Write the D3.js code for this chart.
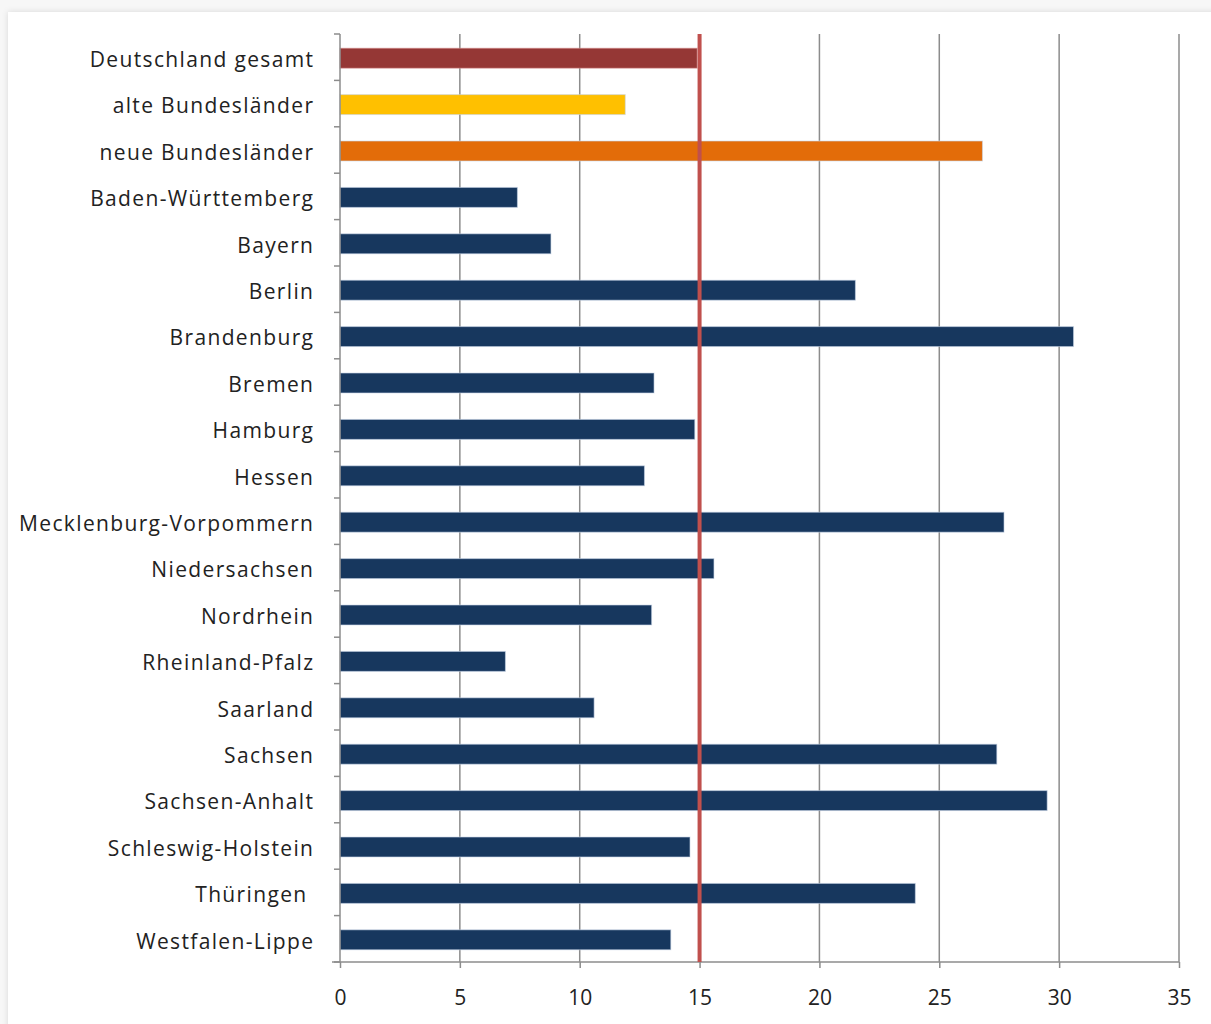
<!DOCTYPE html>
<html><head><meta charset="utf-8">
<script src="https://cdn.jsdelivr.net/npm/d3@7"></script>
<style>
html,body{margin:0;padding:0;background:#f7f7f7;}
svg{display:block;}
</style></head>
<body>
<script>
const categories = ["Deutschland gesamt","alte Bundesländer","neue Bundesländer","Baden-Württemberg","Bayern","Berlin","Brandenburg","Bremen","Hamburg","Hessen","Mecklenburg-Vorpommern","Niedersachsen","Nordrhein","Rheinland-Pfalz","Saarland","Sachsen","Sachsen-Anhalt","Schleswig-Holstein","Thüringen ","Westfalen-Lippe"];
const values = [14.9,11.9,26.8,7.4,8.8,21.5,30.6,13.1,14.8,12.7,27.7,15.6,13.0,6.9,10.6,27.4,29.5,14.6,24.0,13.8];
const barColors = ["#953735","#FFC000","#E36C09","#17375E","#17375E","#17375E","#17375E","#17375E","#17375E","#17375E","#17375E","#17375E","#17375E","#17375E","#17375E","#17375E","#17375E","#17375E","#17375E","#17375E"];
const xTicks = [0,5,10,15,20,25,30,35];
const referenceValue = [15];

(function(){
const W=1211,H=1024;
const svg=d3.select("body").append("svg").attr("width",W).attr("height",H);
const defs=svg.append("defs");
const f=defs.append("filter").attr("id","sh").attr("x","-5%").attr("y","-5%").attr("width","110%").attr("height","110%");
f.append("feDropShadow").attr("dx",0).attr("dy",0).attr("stdDeviation",3).attr("flood-color","#000").attr("flood-opacity",0.12);
svg.append("rect").attr("x",8).attr("y",12).attr("width",W+20).attr("height",H+20).attr("fill","#fff").attr("filter","url(#sh)");

const pl=340,pr=1179,pt=34,pb=962;
const x=d3.scaleLinear().domain([0,35]).range([pl,pr]);
const y=d3.scaleBand().domain(categories).range([pt,pb]).paddingInner(0.57).paddingOuter(0.285);
const font="'Open Sans', 'Noto Sans', sans-serif";
const ls=1.35;

// gridlines
svg.append("g").selectAll("line").data(xTicks.filter(d=>d>0)).join("line")
  .attr("x1",d=>x(d)).attr("x2",d=>x(d)).attr("y1",pt).attr("y2",pb)
  .attr("stroke","#8c8c8c").attr("stroke-width",1.5);

// bars
svg.append("g").selectAll("rect").data(categories).join("rect")
  .attr("x",x(0)).attr("y",d=>y(d)+1).attr("height",y.bandwidth())
  .attr("width",(d,i)=>x(values[i])-x(0))
  .attr("fill",(d,i)=>barColors[i])
  .attr("stroke",(d,i)=>i===0?"#d99594":"#c6d4e6").attr("stroke-opacity",0.6).attr("stroke-width",1);

// y axis
const yAxisG=svg.append("g").attr("stroke","#8c8c8c").attr("stroke-width",1.5);
yAxisG.append("line").attr("x1",pl).attr("x2",pl).attr("y1",pt).attr("y2",pb);
const bounds=d3.range(categories.length+1).map(i=>pt+i*(pb-pt)/categories.length);
yAxisG.selectAll("line.t").data(bounds).join("line").attr("class","t")
  .attr("x1",pl-6).attr("x2",pl).attr("y1",d=>d).attr("y2",d=>d);

// x axis
const xAxis=d3.axisBottom(x).tickValues(xTicks).tickSize(6).tickSizeOuter(0).tickPadding(22);
const xg=svg.append("g").attr("transform",`translate(0,${pb})`).call(xAxis);
xg.select(".domain").attr("stroke","#8c8c8c").attr("stroke-width",1.5).attr("d",`M${pl-8},0H${pr}`);
xg.selectAll(".tick line").attr("stroke","#8c8c8c").attr("stroke-width",1.5);
xg.selectAll(".tick text").attr("font-family",font).attr("font-size",21).attr("fill","#222");

// category labels
svg.append("g").selectAll("text").data(categories).join("text")
  .attr("x",313+ls).attr("y",d=>y(d)+y.bandwidth()/2+1).attr("dy","0.42em")
  .attr("text-anchor","end").attr("font-family",font).attr("font-size",21)
  .style("white-space","pre")
  .attr("letter-spacing",ls+"px").attr("fill","#222").text(d=>d);

// reference line
svg.append("g").selectAll("line").data(referenceValue).join("line")
  .attr("x1",d=>x(d)).attr("x2",d=>x(d)).attr("y1",pt).attr("y2",pb)
  .attr("stroke","#C0504D").attr("stroke-width",4);
})();
</script>
</body></html>
